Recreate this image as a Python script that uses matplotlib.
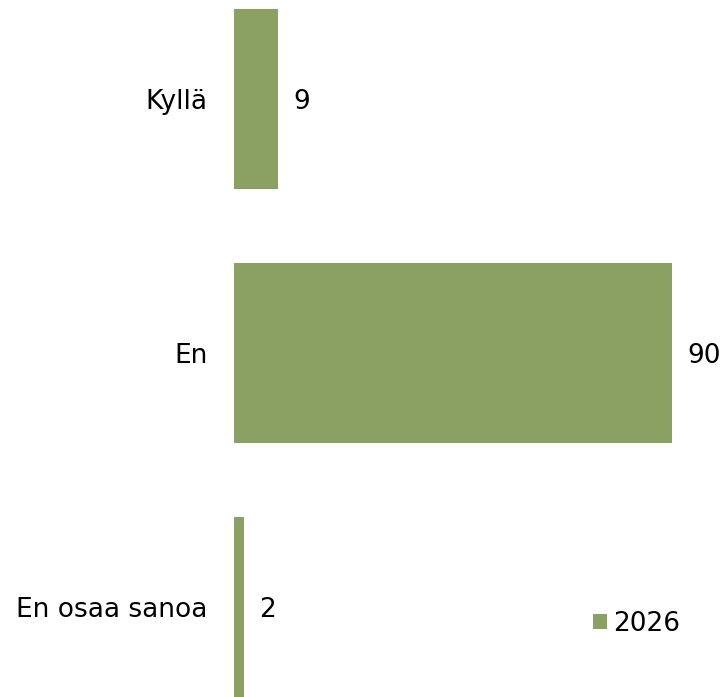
import matplotlib.pyplot as plt

# Data
categories = ['Kyllä', 'En', 'En osaa sanoa']
values = [9, 90, 2]
series_name = '2026'
bar_color = '#8BA163'

plt.rcParams['font.family'] = ['DejaVu Sans']

fig = plt.figure(figsize=(7.23, 6.97), dpi=100)
ax = fig.add_axes([234 / 723, 0.0, 1 - 234 / 723, 1.0])

pos = list(range(len(categories)))
bars = ax.barh(pos, values, height=0.71, color=bar_color, label=series_name)

ax.set_xlim(0, 100.5)
ax.set_ylim(2.354, -0.39)

ax.set_yticks(pos)
ax.set_yticklabels(categories, fontsize=19)
ax.tick_params(axis='y', length=0, pad=19)
ax.set_xticks([])
for s in ax.spines.values():
    s.set_visible(False)

# value labels
for b, v in zip(bars, values):
    ax.annotate(str(v), (b.get_width(), b.get_y() + b.get_height() / 2),
                xytext=(11, -2), textcoords='offset points',
                va='center', ha='left', fontsize=19)

fig.legend(loc='center left', bbox_to_anchor=(593 / 723, 1 - 624 / 697),
           frameon=False, fontsize=19, handlelength=0.53, handleheight=0.53,
           handletextpad=0.25, borderpad=0, borderaxespad=0)

fig.savefig('out.png', dpi=100)
